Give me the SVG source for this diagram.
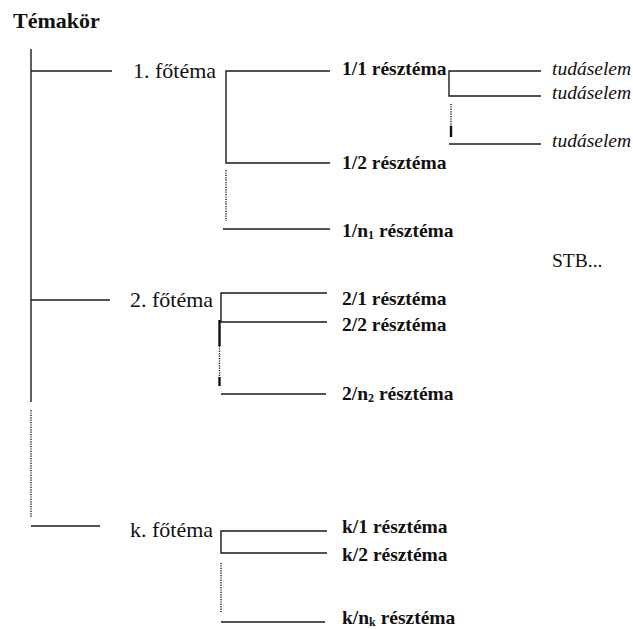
<svg xmlns="http://www.w3.org/2000/svg" width="633" height="629" viewBox="0 0 633 629">
<style>
.t{font-family:"Liberation Serif","Times New Roman",serif;fill:#111}
.title{font-size:22px;font-weight:bold}
.main{font-size:22px}
.sub{font-size:19.5px;font-weight:bold}
.it{font-size:19.5px;font-style:italic}
.reg{font-size:19.5px}
.ln{stroke:#1a1a1a;stroke-width:1.4;fill:none}
.dot{stroke:#1a1a1a;stroke-width:1.4;fill:none;stroke-dasharray:1.2 1.2}
.thk{stroke:#111;stroke-width:2.4;fill:none}
</style>
<rect width="633" height="629" fill="#fff"/>
<g id="connectors">
  <line class="ln" x1="31" y1="49" x2="31" y2="402"/>
  <line class="dot" x1="31" y1="410" x2="31" y2="517"/>
  <line class="ln" x1="31" y1="71" x2="112" y2="71"/>
  <line class="ln" x1="31" y1="300" x2="110" y2="300"/>
  <line class="ln" x1="31" y1="526" x2="100" y2="526"/>
  <polyline class="ln" points="330,71 226,71 226,163 330,163"/>
  <line class="dot" x1="226" y1="170" x2="226" y2="221"/>
  <line class="ln" x1="223" y1="229" x2="330" y2="229"/>
  <polyline class="ln" points="541,71 449,71 449,96 541,96"/>
  <line class="dot" x1="451" y1="104" x2="451" y2="126"/>
  <line class="thk" x1="451" y1="126" x2="451" y2="137"/>
  <line class="ln" x1="449" y1="144" x2="541" y2="144"/>
  <polyline class="ln" points="327,293 221,293 221,322"/>
  <line class="ln" x1="220" y1="322" x2="327" y2="322"/>
  <line class="thk" x1="219.5" y1="320" x2="219.5" y2="346"/>
  <line class="dot" x1="219.5" y1="346" x2="219.5" y2="377"/>
  <line class="thk" x1="219.5" y1="377" x2="219.5" y2="386"/>
  <line class="ln" x1="221" y1="394" x2="326" y2="394"/>
  <polyline class="ln" points="327,531 221,531 221,553 327,553"/>
  <line class="dot" x1="221" y1="563" x2="221" y2="612"/>
  <line class="ln" x1="221" y1="622" x2="325" y2="622"/>
</g>
<g id="root"><text class="t title" x="13" y="28">Témakör</text></g>
<g id="f1"><text class="t main" x="133" y="78">1. főtéma</text></g>
<g id="f2"><text class="t main" x="130" y="307">2. főtéma</text></g>
<g id="fk"><text class="t main" x="130" y="537">k. főtéma</text></g>
<g id="r11"><text class="t sub" x="342" y="75">1/1 résztéma</text></g>
<g id="r12"><text class="t sub" x="342" y="169">1/2 résztéma</text></g>
<g id="r1n"><text class="t sub" x="342" y="237">1/n<tspan font-size="12" dy="2">1</tspan><tspan dy="-2"> résztéma</tspan></text></g>
<g id="e1"><text class="t it" x="552" y="75">tudáselem</text></g>
<g id="e2"><text class="t it" x="552" y="99">tudáselem</text></g>
<g id="e3"><text class="t it" x="552" y="147">tudáselem</text></g>
<g id="stb"><text class="t reg" x="552" y="267">STB...</text></g>
<g id="r21"><text class="t sub" x="342" y="305">2/1 résztéma</text></g>
<g id="r22"><text class="t sub" x="342" y="331">2/2 résztéma</text></g>
<g id="r2n"><text class="t sub" x="342" y="400">2/n<tspan font-size="12" dy="2">2</tspan><tspan dy="-2"> résztéma</tspan></text></g>
<g id="rk1"><text class="t sub" x="342" y="533">k/1 résztéma</text></g>
<g id="rk2"><text class="t sub" x="342" y="561">k/2 résztéma</text></g>
<g id="rkn"><text class="t sub" x="342" y="624">k/n<tspan font-size="12" dy="2">k</tspan><tspan dy="-2"> résztéma</tspan></text></g>
</svg>
